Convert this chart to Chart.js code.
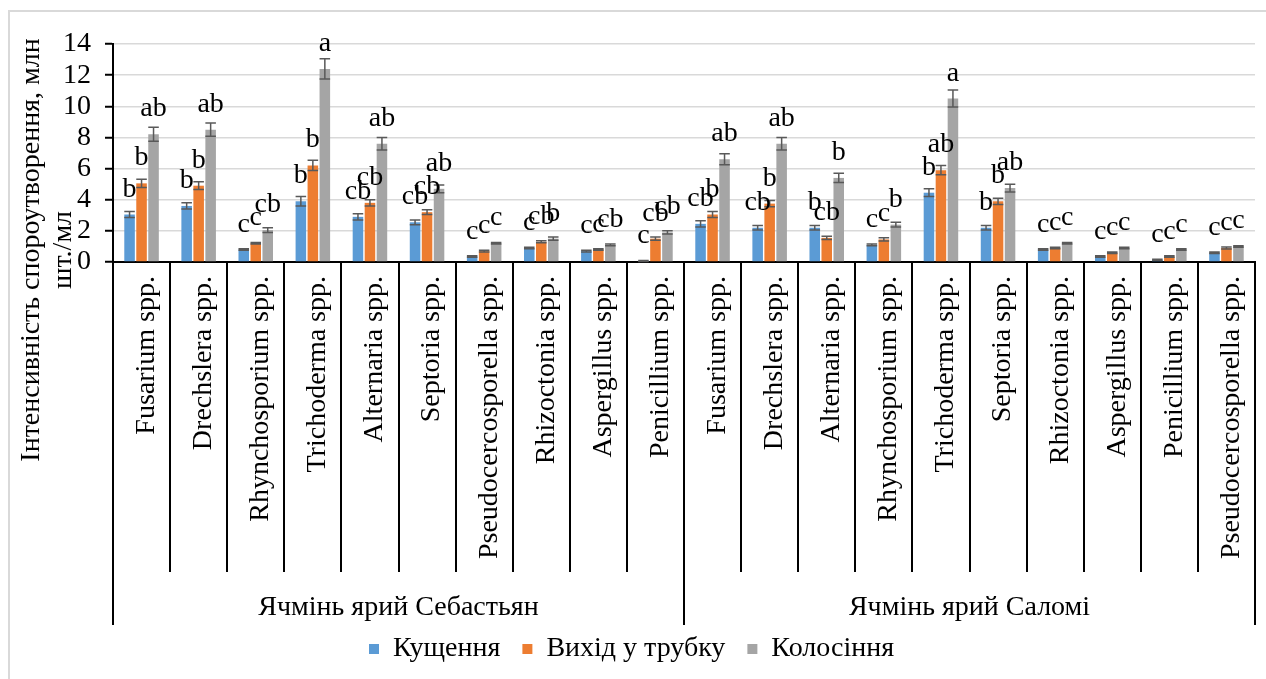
<!DOCTYPE html>
<html>
<head>
<meta charset="utf-8">
<script src="https://cdn.jsdelivr.net/npm/chart.js@4"></script>
<style>
  body { margin: 0; background: #fff; }
  #wrap { width: 1266px; height: 679px; position: relative; }
</style>
</head>
<body>
<div id="wrap"><canvas id="chart"></canvas></div>
<script>
// Categories (two barley varieties, 10 fungi each)
const categories = [
    'Fusarium spp.', 'Drechslera spp.', 'Rhynchosporium spp.', 'Trichoderma spp.', 'Alternaria spp.',
    'Septoria spp.', 'Pseudocercosporella spp.', 'Rhizoctonia spp.', 'Aspergillus spp.', 'Penicillium spp.',
    'Fusarium spp.', 'Drechslera spp.', 'Alternaria spp.', 'Rhynchosporium spp.', 'Trichoderma spp.',
    'Septoria spp.', 'Rhizoctonia spp.', 'Aspergillus spp.', 'Penicillium spp.', 'Pseudocercosporella spp.'
];
const groupLabels = ['Ячмінь ярий Себастьян', 'Ячмінь ярий Саломі'];
const groupSizes = [10, 10];
const seriesNames = ['Кущення', 'Вихід у трубку', 'Колосіння'];
const seriesColors = ['#5b9bd5', '#ed7d31', '#a5a5a5'];

// Values, mln spores/ml
const tilleringValues = [3.05, 3.6, 0.8, 3.9, 2.9, 2.55, 0.35, 0.9, 0.7, 0.07,
                         2.45, 2.2, 2.2, 1.1, 4.45, 2.2, 0.8, 0.35, 0.15, 0.6];
const bootingValues   = [5.05, 4.9, 1.2, 6.2, 3.8, 3.2, 0.7, 1.3, 0.8, 1.5,
                         3.05, 3.75, 1.55, 1.45, 5.9, 3.9, 0.9, 0.6, 0.35, 0.9];
const headingValues   = [8.2, 8.5, 2.05, 12.4, 7.6, 4.7, 1.2, 1.5, 1.1, 1.9,
                         6.6, 7.6, 5.4, 2.4, 10.5, 4.75, 1.2, 0.9, 0.8, 1.0];

// Error bar half-widths
const tilleringErrors = [0.2, 0.2, 0.05, 0.3, 0.2, 0.15, 0.05, 0.05, 0.05, 0.03,
                         0.2, 0.15, 0.15, 0.05, 0.25, 0.15, 0.05, 0.05, 0.03, 0.05];
const bootingErrors   = [0.27, 0.25, 0.05, 0.33, 0.2, 0.15, 0.05, 0.07, 0.05, 0.1,
                         0.2, 0.2, 0.1, 0.1, 0.3, 0.2, 0.05, 0.05, 0.05, 0.07];
const headingErrors   = [0.45, 0.43, 0.15, 0.65, 0.4, 0.25, 0.05, 0.1, 0.05, 0.1,
                         0.35, 0.4, 0.3, 0.15, 0.55, 0.25, 0.05, 0.05, 0.05, 0.05];

// Significance letters
const tilleringLetters = ['b', 'b', 'c', 'b', 'cb', 'cb', 'c', 'c', 'c', 'c',
                          'cb', 'cb', 'b', 'c', 'b', 'b', 'c', 'c', 'c', 'c'];
const bootingLetters   = ['b', 'b', 'c', 'b', 'cb', 'cb', 'c', 'cb', 'c', 'cb',
                          'b', 'b', 'cb', 'c', 'ab', 'b', 'c', 'c', 'c', 'c'];
const headingLetters   = ['ab', 'ab', 'cb', 'a', 'ab', 'ab', 'c', 'b', 'cb', 'cb',
                          'ab', 'ab', 'b', 'b', 'a', 'ab', 'c', 'c', 'c', 'c'];

const yTitle = ['Інтенсивність спороутворення, млн', 'шт./мл'];

const FONT = '"Liberation Serif", "Times New Roman", serif';
const FONT_SIZE = 28;
const PLOT_BOTTOM = 262;

// Error bars, letters, category separators, group labels, y title, outer frame
const extrasPlugin = {
    id: 'extras',
    afterLayout(chart) {
        // legend sits a little right of the canvas centre in the original
        if (chart.legend) {
            chart.legend.left += 4;
            chart.legend.right += 4;
        }
    },
    beforeDraw(chart) {
        const ctx = chart.ctx;
        ctx.save();
        ctx.strokeStyle = '#d9d9d9';
        ctx.lineWidth = 2;
        ctx.strokeRect(9, 11, chart.width + 20, chart.height + 20);
        ctx.restore();
    },
    afterDatasetsDraw(chart) {
        const ctx = chart.ctx;
        const yScale = chart.scales.y;
        ctx.save();
        chart.data.datasets.forEach((ds, di) => {
            const meta = chart.getDatasetMeta(di);
            meta.data.forEach((bar, i) => {
                const v = ds.data[i];
                const e = ds.errors[i];
                const yTop = yScale.getPixelForValue(v + e);
                const yBot = yScale.getPixelForValue(Math.max(0, v - e));
                const half = bar.width / 2;
                ctx.strokeStyle = '#595959';
                ctx.lineWidth = 1.5;
                ctx.beginPath();
                ctx.moveTo(bar.x, yTop);
                ctx.lineTo(bar.x, yBot);
                ctx.moveTo(bar.x - half, yTop);
                ctx.lineTo(bar.x + half, yTop);
                ctx.moveTo(bar.x - half, yBot);
                ctx.lineTo(bar.x + half, yBot);
                ctx.stroke();
            });
        });
        ctx.fillStyle = '#000';
        ctx.font = FONT_SIZE + 'px ' + FONT;
        ctx.textAlign = 'center';
        ctx.textBaseline = 'alphabetic';
        chart.data.datasets.forEach((ds, di) => {
            const meta = chart.getDatasetMeta(di);
            meta.data.forEach((bar, i) => {
                ctx.fillText(ds.letters[i], bar.x, bar.y - 18);
            });
        });
        ctx.restore();
    },
    afterDraw(chart) {
        const ctx = chart.ctx;
        const area = chart.chartArea;
        const n = categories.length;
        const step = (area.right - area.left) / n;
        ctx.save();
        ctx.strokeStyle = '#000';
        ctx.lineWidth = 2;
        // separators between categories, longer ones at group edges
        const groupEdges = [0];
        groupSizes.forEach(g => groupEdges.push(groupEdges[groupEdges.length - 1] + g));
        for (let i = 0; i <= n; i++) {
            const px = Math.round(area.left + i * step);
            ctx.beginPath();
            ctx.moveTo(px, area.bottom);
            ctx.lineTo(px, groupEdges.includes(i) ? 625 : 572);
            ctx.stroke();
        }
        // group labels
        ctx.fillStyle = '#000';
        ctx.font = FONT_SIZE + 'px ' + FONT;
        ctx.textAlign = 'center';
        ctx.textBaseline = 'middle';
        let start = 0;
        groupLabels.forEach((label, gi) => {
            const cx = area.left + (start + groupSizes[gi] / 2) * step;
            ctx.fillText(label, cx, 608);
            start += groupSizes[gi];
        });
        // y axis title, two lines
        yTitle.forEach((line, li) => {
            ctx.save();
            ctx.translate(32 + li * 32, 250);
            ctx.rotate(-Math.PI / 2);
            ctx.fillText(line, 0, 0);
            ctx.restore();
        });
        ctx.restore();
    }
};

const datasets = [
    { label: seriesNames[0], data: tilleringValues, errors: tilleringErrors, letters: tilleringLetters, backgroundColor: seriesColors[0] },
    { label: seriesNames[1], data: bootingValues, errors: bootingErrors, letters: bootingLetters, backgroundColor: seriesColors[1] },
    { label: seriesNames[2], data: headingValues, errors: headingErrors, letters: headingLetters, backgroundColor: seriesColors[2] }
];

new Chart(document.getElementById('chart'), {
    type: 'bar',
    data: { labels: categories, datasets: datasets },
    options: {
        responsive: true,
        maintainAspectRatio: false,
        animation: false,
        layout: { padding: { top: 44, right: 11, bottom: 6, left: 0 } },
        datasets: { bar: { categoryPercentage: 0.63, barPercentage: 0.88 } },
        plugins: {
            legend: {
                position: 'bottom',
                labels: {
                    font: { family: FONT, size: FONT_SIZE },
                    color: '#000',
                    boxWidth: 10,
                    boxHeight: 10,
                    padding: 22
                }
            },
            tooltip: { enabled: false }
        },
        scales: {
            x: {
                grid: { display: false },
                border: { display: true, color: '#000', width: 2 },
                ticks: {
                    autoSkip: false,
                    minRotation: 90,
                    maxRotation: 90,
                    labelOffset: 5,
                    color: '#000',
                    padding: 6,
                    font: { family: FONT, size: FONT_SIZE }
                },
                afterFit(scale) {
                    const chart = scale.chart;
                    const legendH = chart.legend ? chart.legend.height : 0;
                    scale.height = chart.height - 6 - legendH - PLOT_BOTTOM;
                    scale.paddingLeft = 0;
                    scale.paddingRight = 0;
                }
            },
            y: {
                min: 0,
                max: 14,
                grid: { color: '#d9d9d9', lineWidth: 1.5, tickColor: '#000', tickLength: 8, tickWidth: 2 },
                border: { display: true, color: '#000', width: 2 },
                ticks: { stepSize: 2, autoSkip: false, color: '#000', padding: 14, font: { family: FONT, size: FONT_SIZE } },
                afterFit(scale) { scale.width = 113; }
            }
        }
    },
    plugins: [extrasPlugin]
});
</script>
</body>
</html>
